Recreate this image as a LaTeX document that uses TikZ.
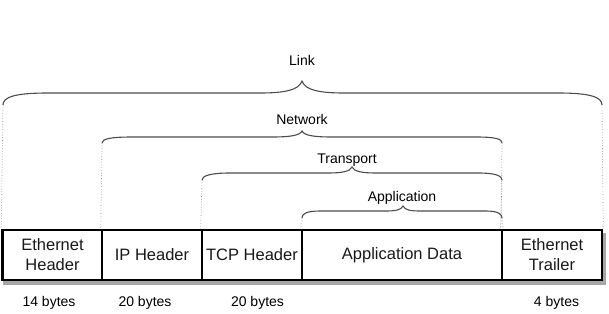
\documentclass[tikz,border=0pt]{standalone}
\usepackage{fontspec}
\setmainfont{Liberation Sans}
\begin{document}
\begin{tikzpicture}[x=1pt,y=-1pt,
  cell/.style={draw=black,line width=2.5pt,fill=white,minimum height=50pt,inner sep=0pt,align=center,
    font=\fontsize{16.5}{20}\selectfont,text=black!90},
  lbl/.style={font=\fontsize{14}{16}\selectfont,text=black,inner sep=0pt},
  brc/.style={draw=black!70,line width=1.1pt},
  guide/.style={draw=black!45,line width=0.7pt,dotted},
  shadowc/.style={fill=black!35}]
\useasboundingbox (0,0) rectangle (609,313);
% drop shadow of the frame row
\fill[shadowc] (3,281) rectangle (606,285);
\fill[shadowc] (603,233) rectangle (606,285);
% boxes
\node[cell,minimum width=100pt] (eh) at (52.5,255) {Ethernet\\Header};
\node[cell,minimum width=100pt] (iph) at (152,255) {IP Header};
\node[cell,minimum width=100pt] (tcph) at (252,255) {TCP Header};
\node[cell,minimum width=200pt] (appd) at (402,255) {Application Data};
\node[cell,minimum width=100pt] (et) at (552,255) {Ethernet\\Trailer};
% byte labels
\node[lbl] (b1) at (49,303) {14 bytes};
\node[lbl] (b2) at (145,303) {20 bytes};
\node[lbl] (b3) at (257.5,303) {20 bytes};
\node[lbl] (b4) at (556.5,303) {4 bytes};
% brace labels
\node[lbl] (tlink) at (302,60) {Link};
\node[lbl] (tnet) at (302,119) {Network};
\node[lbl] (ttr) at (347,160) {Transport};
\node[lbl] (tapp) at (402,198) {Application};
% brace end coordinates
\coordinate (lkL) at (3,105);   \coordinate (lkR) at (602,105);
\coordinate (nwL) at (102,143); \coordinate (nwR) at (502,143);
\coordinate (trL) at (202,180); \coordinate (trR) at (502,180);
\coordinate (apL) at (302,218); \coordinate (apR) at (502,218);
% dotted guides
\draw[guide] (lkL) -- (eh.north west);
\draw[guide] (lkR) -- (et.north east);
\draw[guide] (nwL) -- (iph.north west);
\draw[guide] (nwR) -- (et.north west);
\draw[guide] (trL) -- (tcph.north west);
\draw[guide] (trR) -- (et.north west);
\draw[guide] (apL) -- (appd.north west);
\draw[guide] (apR) -- (appd.north east);
% braces
\draw[brc] (lkL) .. controls (3,97) and (15,93) .. (48,93) -- (260,93)
  .. controls (285,93) and (299,90) .. (302,81)
  .. controls (305,90) and (319,93) .. (344,93) -- (558,93)
  .. controls (590,93) and (602,97) .. (lkR);
\draw[brc] (nwL) .. controls (102,139) and (110,137) .. (132,137) -- (272,137)
  .. controls (290,137) and (300,135.5) .. (302,131)
  .. controls (304,135.5) and (314,137) .. (332,137) -- (476,137)
  .. controls (496,137) and (502,139) .. (nwR);
\draw[brc] (trL) .. controls (202,176) and (210,173) .. (230,173) -- (328,173)
  .. controls (342,173) and (350,171.5) .. (352,167)
  .. controls (354,171.5) and (362,173) .. (376,173) -- (478,173)
  .. controls (496,173) and (502,176) .. (trR);
\draw[brc] (apL) .. controls (302,214) and (306,211) .. (320,211) -- (385,211)
  .. controls (396,211) and (401,210) .. (403,206)
  .. controls (405,210) and (410,211) .. (421,211) -- (486,211)
  .. controls (498,211) and (502,214) .. (apR);
\end{tikzpicture}
\end{document}
